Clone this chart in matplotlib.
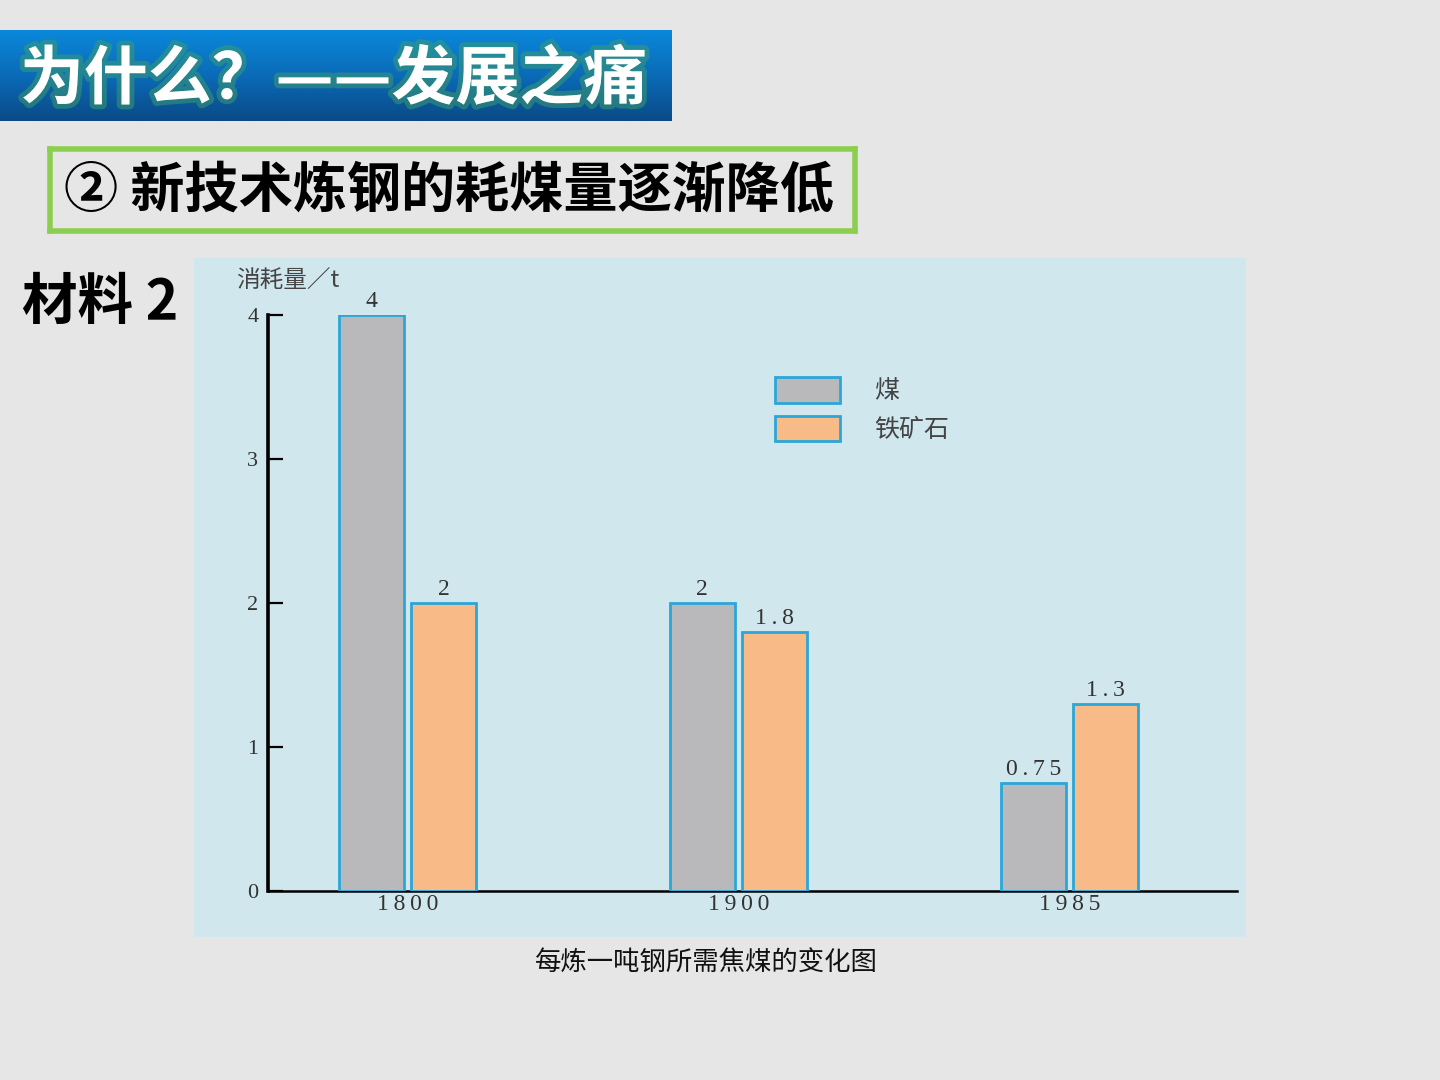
import matplotlib
matplotlib.use("Agg")
import matplotlib.pyplot as plt
import matplotlib.patheffects as pe
from matplotlib.patches import Patch
import numpy as np

# data
years = ["1800", "1900", "1985"]
coal = [4, 2, 0.75]
ore = [2, 1.8, 1.3]
coal_labels = ["4", "2", "0.75"]
ore_labels = ["2", "1.8", "1.3"]
series_names = ["煤", "铁矿石"]
yticks = [0, 1, 2, 3, 4]

cjk = ["Noto Sans CJK SC", "DejaVu Sans"]
serif = ["Liberation Serif", "DejaVu Serif"]

W, H = 1440, 1080
fig = plt.figure(figsize=(W / 100, H / 100), dpi=100)
fig.patch.set_facecolor("#e6e6e6")


def fx(px):
    return px / W


def fy(py):
    return 1 - py / H


def box(x0, y0, x1, y1):
    # pixel box (top-left origin) -> figure rect
    return [fx(x0), fy(y1), (x1 - x0) / W, (y1 - y0) / H]


def spaced(s):
    return "\u2009".join(s)


# blue title banner
axb = fig.add_axes(box(0, 30, 672, 121))
grad = np.linspace(0, 1, 100).reshape(-1, 1)
cmap = matplotlib.colors.LinearSegmentedColormap.from_list("b", ["#0b88da", "#0a6bb8", "#0a4a86"])
axb.imshow(grad, aspect="auto", cmap=cmap, extent=[0, 1, 0, 1], origin="upper")
axb.set_axis_off()
fig.text(fx(20), fy(80), "为什么？——发展之痛", family=cjk, fontsize=46, fontweight="bold",
         color="white", va="center", ha="left",
         path_effects=[pe.withStroke(linewidth=7, foreground="#3f9f6a", alpha=0.5)])

# green subtitle box
axg = fig.add_axes(box(50, 149, 855, 231))
axg.set_xticks([])
axg.set_yticks([])
axg.set_facecolor("#e6e6e6")
for s in axg.spines.values():
    s.set_color("#8ccf50")
    s.set_linewidth(4)
fig.text(fx(64), fy(192), "② 新技术炼钢的耗煤量逐渐降低", family=cjk, fontsize=39,
         fontweight="bold", color="black", va="center", ha="left")

fig.text(fx(22), fy(303), "材料 2", family=cjk, fontsize=40, fontweight="bold",
         color="black", va="center", ha="left")

# chart panel
axp = fig.add_axes(box(194, 258, 1246, 937))
axp.set_facecolor("#d0e7ed")
axp.set_xticks([])
axp.set_yticks([])
for s in axp.spines.values():
    s.set_visible(False)

ax = fig.add_axes(box(268, 315, 1237, 891))
ax.set_facecolor("none")

x = np.arange(len(years))
bw = 0.196
off = 0.109
edge = "#2aa6d8"
ax.bar(x - off, coal, bw, color="#b9b9bc", edgecolor=edge, linewidth=2, zorder=3)
ax.bar(x + off, ore, bw, color="#f8ba87", edgecolor=edge, linewidth=2, zorder=3)
for i in range(len(years)):
    ax.text(x[i] - off, coal[i] + 0.02, spaced(coal_labels[i]), ha="center", va="bottom",
            family=serif, fontsize=17, color="#333333")
    ax.text(x[i] + off, ore[i] + 0.02, spaced(ore_labels[i]), ha="center", va="bottom",
            family=serif, fontsize=17, color="#333333")

ax.set_xlim(-0.421, 2.506)
ax.set_ylim(0, 4)
ax.set_yticks(yticks)
ax.set_yticklabels([str(v) for v in yticks], family=serif, fontsize=16, color="#333333")
ax.set_xticks(x)
ax.set_xticklabels([spaced(y) for y in years], family=serif, fontsize=17, color="#333333")
ax.tick_params(axis="y", direction="in", length=11, width=1.6, pad=7, color="black")
ax.tick_params(axis="x", length=0, pad=2)
for s in ["top", "right"]:
    ax.spines[s].set_visible(False)
ax.spines["left"].set_linewidth(2.6)
ax.spines["bottom"].set_linewidth(1.8)

fig.text(fx(236), fy(281), "消耗量／t", family=cjk, fontsize=17, color="#444444",
         va="center", ha="left")

handles = [Patch(facecolor="#b9b9bc", edgecolor=edge, linewidth=2),
           Patch(facecolor="#f8ba87", edgecolor=edge, linewidth=2)]
leg = fig.legend(handles, series_names, loc="upper left",
                 bbox_to_anchor=(fx(775), fy(377)), bbox_transform=fig.transFigure,
                 frameon=False, borderpad=0, borderaxespad=0,
                 handlelength=2.6, handleheight=1.2, labelspacing=0.45, handletextpad=1.35,
                 prop={"family": cjk, "size": 18})
for t in leg.get_texts():
    t.set_color("#444444")

fig.text(fx(706), fy(962), "每炼一吨钢所需焦煤的变化图", family=cjk, fontsize=19,
         color="#111111", va="center", ha="center")

fig.savefig("out.png", dpi=100, facecolor=fig.get_facecolor())
